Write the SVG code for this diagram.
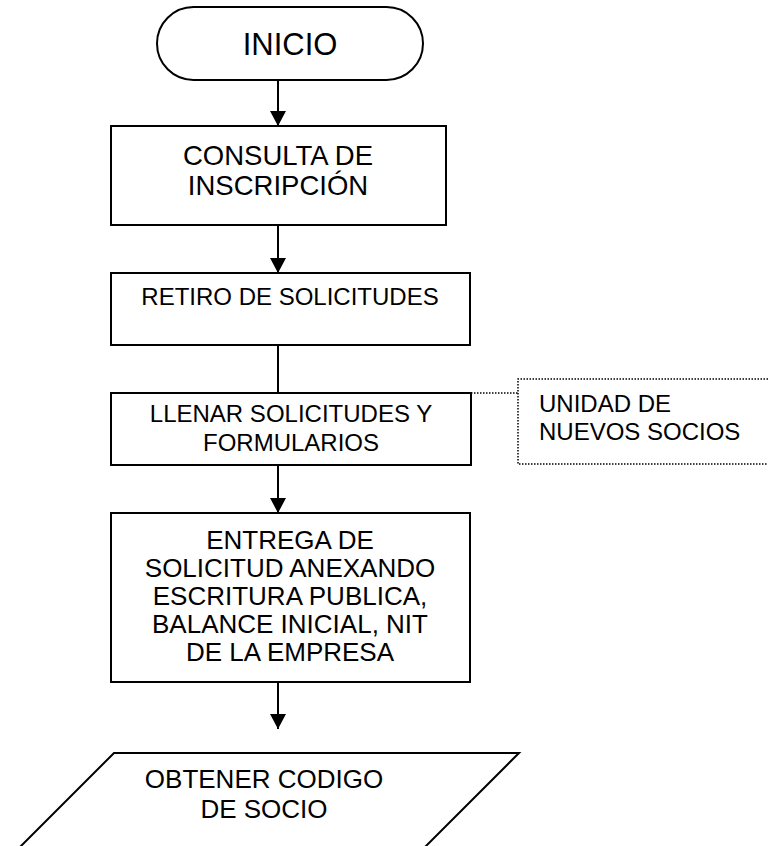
<svg xmlns="http://www.w3.org/2000/svg" width="770" height="846" viewBox="0 0 770 846">
  <defs>
    <marker id="arrow" markerUnits="userSpaceOnUse" markerWidth="16" markerHeight="16" refX="15" refY="8" orient="auto">
      <path d="M0,0 L15,8 L0,16 Z" fill="#000"/>
    </marker>
    <style>
      .shape { fill: #fff; stroke: #000; stroke-width: 2; }
      .note { fill: none; stroke: #000; stroke-width: 1.5; stroke-dasharray: 1.5 1.5; }
      .flow { fill: none; stroke: #000; stroke-width: 2; }
      .lbl { font-family: "Liberation Sans", Arial, sans-serif; fill: #000; text-anchor: middle; }
      .lbl-left { font-family: "Liberation Sans", Arial, sans-serif; fill: #000; }
    </style>
  </defs>
  <rect width="770" height="846" fill="#fff"/>

  <!-- connectors -->
  <g id="connectors">
    <line class="flow" x1="278" y1="80" x2="278" y2="126" marker-end="url(#arrow)"/>
    <line class="flow" x1="278" y1="225" x2="278" y2="273" marker-end="url(#arrow)"/>
    <line class="flow" x1="278" y1="345" x2="278" y2="393"/>
    <line class="flow" x1="278" y1="465" x2="278" y2="513" marker-end="url(#arrow)"/>
    <line class="flow" x1="278" y1="682" x2="278" y2="729" marker-end="url(#arrow)"/>
    <line class="note" x1="471" y1="393" x2="518" y2="393"/>
  </g>

  <g id="inicio">
    <rect class="shape" x="157" y="7" width="266" height="73" rx="36.5" ry="36.5"/>
    <text class="lbl" x="290" y="55" font-size="31">INICIO</text>
  </g>

  <g id="consulta">
    <rect class="shape" x="111" y="126" width="335" height="99"/>
    <text class="lbl" x="278" y="165" font-size="27.5">CONSULTA DE</text>
    <text class="lbl" x="278" y="195" font-size="27.5">INSCRIPCIÓN</text>
  </g>

  <g id="retiro">
    <rect class="shape" x="111" y="273" width="359" height="72"/>
    <text class="lbl" x="290" y="305" font-size="24">RETIRO DE SOLICITUDES</text>
  </g>

  <g id="llenar">
    <rect class="shape" x="111" y="393" width="360" height="72"/>
    <text class="lbl" x="291" y="422" font-size="24">LLENAR SOLICITUDES Y</text>
    <text class="lbl" x="291" y="451" font-size="24">FORMULARIOS</text>
  </g>

  <g id="unidad">
    <path class="note" d="M768,379 H518 V464 H768"/>
    <text class="lbl-left" x="539" y="412" font-size="24">UNIDAD DE</text>
    <text class="lbl-left" x="539" y="440" font-size="24">NUEVOS SOCIOS</text>
  </g>

  <g id="entrega">
    <rect class="shape" x="111" y="513" width="359" height="169"/>
    <text class="lbl" x="290" y="549" font-size="26">ENTREGA DE</text>
    <text class="lbl" x="290" y="577" font-size="26">SOLICITUD ANEXANDO</text>
    <text class="lbl" x="290" y="605" font-size="26">ESCRITURA PUBLICA,</text>
    <text class="lbl" x="290" y="633" font-size="26">BALANCE INICIAL, NIT</text>
    <text class="lbl" x="290" y="661" font-size="26">DE LA EMPRESA</text>
  </g>

  <g id="codigo">
    <path class="shape" d="M114,753 H519 L419,853 H14 Z"/>
    <text class="lbl" x="264" y="788" font-size="26">OBTENER CODIGO</text>
    <text class="lbl" x="264" y="818" font-size="26">DE SOCIO</text>
  </g>
</svg>
